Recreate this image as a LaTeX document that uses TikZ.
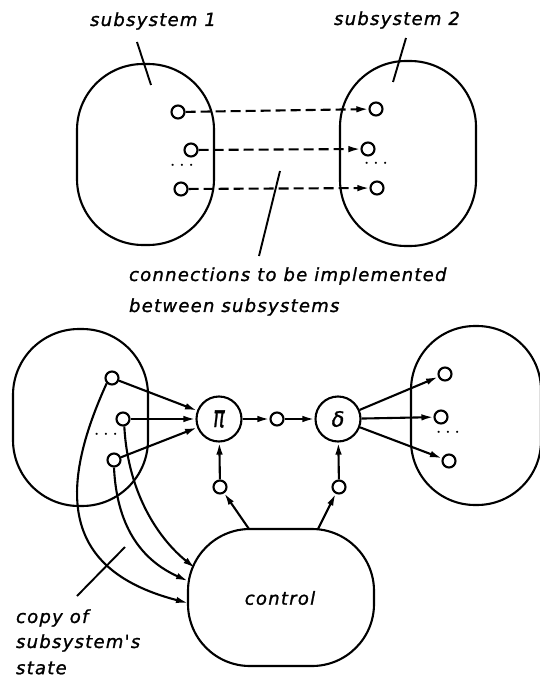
\documentclass[tikz,border=0pt]{standalone}
\usepackage{fontspec}
\usepackage{graphicx}
\newfontfamily\lab[LetterSpace=7,FakeBold=1.2]{DejaVu Sans}
\newfontfamily\greek[FakeBold=1.2]{DejaVu Sans}
\usetikzlibrary{arrows.meta}
\begin{document}
\begin{tikzpicture}[x=1pt,y=-1pt,
  line width=2.1pt,
  blob/.style={draw, rectangle, rounded corners=#1, inner sep=0pt},
  port/.style={draw, circle, minimum size=13pt, inner sep=0pt, fill=white},
  op/.style={draw, circle, minimum size=45pt, inner sep=0pt, fill=white},
  arr/.style={-{Latex[length=12pt,width=6.5pt]}},
  darr/.style={arr, dash pattern=on 10pt off 5pt},
  lbl/.style={font=\lab\itshape\fontsize{18}{20}\selectfont, inner sep=0pt},
  dots/.style={inner sep=0pt, font=\fontsize{22}{22}\selectfont},
  pointer/.style={line width=1.9pt}
]
\fill[white] (0,0) rectangle (539,679);
\useasboundingbox (0,0) rectangle (539,679);

% ---------- upper figure: two subsystems ----------
\node[blob=66pt, minimum width=137pt, minimum height=181pt] (sA) at (145.5,154.5) {};
\node[blob=66pt, minimum width=136pt, minimum height=185pt] (sB) at (408,153.5) {};

\node[port] (a1) at (178,112) {};
\node[port] (a2) at (191,150) {};
\node[port] (a3) at (181,189) {};
\node[dots] (ad) at (182,166) {$\cdots$};

\node[port] (b1) at (376,109) {};
\node[port] (b2) at (368,149) {};
\node[port] (b3) at (377,188) {};
\node[dots] (bd) at (376,164) {$\cdots$};

\draw[darr] (a1) -- (b1);
\draw[darr] (a2) -- (b2);
\draw[darr] (a3) -- (b3);

\node[lbl] (tA) at (153,21) {subsystem 1};
\node[lbl] (tB) at (397,20) {subsystem 2};
\coordinate (pA1) at (137,42);  \coordinate (pA2) at (151,85);
\coordinate (pB1) at (406,38);  \coordinate (pB2) at (393,82);
\coordinate (pC1) at (280,171); \coordinate (pC2) at (259,256);
\draw[pointer] (pA1) -- (pA2);
\draw[pointer] (pB1) -- (pB2);
\draw[pointer] (pC1) -- (pC2);

\node[lbl, anchor=west] (tC) at (128,276) {connections to be implemented};
\node[lbl, anchor=west] (tD) at (128,307) {between subsystems};

% ---------- lower figure: control structure ----------
\node[blob=66pt, minimum width=135pt, minimum height=177pt] (sL) at (80.5,417.5) {};
\node[blob=64pt, minimum width=130pt, minimum height=179pt] (sR) at (476,415.5) {};
\node[blob=62pt, minimum width=186pt, minimum height=137pt] (ctl) at (281,597.5) {};
\node[lbl] (tctl) at (280,598) {control};

\node[port] (l1) at (112,378) {};
\node[port] (l2) at (123,419) {};
\node[port] (l3) at (114,460) {};
\node[dots] (ld) at (106,435) {$\cdots$};

\node[op, font=\greek\itshape\fontsize{21}{21}\selectfont] (pi) at (219,419) {\scalebox{0.9}[1.45]{π}};
\node[port] (m) at (277,419) {};
\node[op, font=\greek\itshape\fontsize{21}{21}\selectfont] (de) at (338,419) {δ};

\node[port] (r1) at (445,374) {};
\node[port] (r2) at (441,417) {};
\node[port] (r3) at (449,461) {};
\node[dots] (rd) at (448,433) {$\cdots$};

\node[port] (q1) at (220,487) {};
\node[port] (q2) at (339,487) {};

\draw[arr] (l1) -- (pi);
\draw[arr] (l2) -- (pi);
\draw[arr] (l3) -- (pi);
\draw[arr] (pi) -- (m);
\draw[arr] (m) -- (de);
\draw[arr] (de) -- (r1);
\draw[arr] (de) -- (r2);
\draw[arr] (de) -- (r3);
\draw[arr] (q1) -- (pi);
\draw[arr] (q2) -- (de);

\coordinate (k1) at (249,529);
\coordinate (k2) at (318,529);
\draw[arr] (k1) -- (q1);
\draw[arr] (k2) -- (q2);

% copies of the subsystem state fed into control
\coordinate (c1) at (195,568);
\coordinate (c2) at (188,581);
\coordinate (c3) at (188,603);
\draw[arr] (l1.225) .. controls (54,499) and (68,572) .. (c3);
\draw[arr] (l3.south) .. controls (116,510) and (130,555) .. (c2);
\draw[arr] (l2.-80) .. controls (128,495) and (160,540) .. (c1);

\coordinate (pD1) at (125,547); \coordinate (pD2) at (77,596);
\draw[pointer] (pD1) -- (pD2);
\node[lbl, anchor=west] (tE) at (15,618) {copy of};
\node[lbl, anchor=west] (tF) at (15,643) {subsystem's};
\node[lbl, anchor=west] (tG) at (15,668) {state};
\end{tikzpicture}
\end{document}
